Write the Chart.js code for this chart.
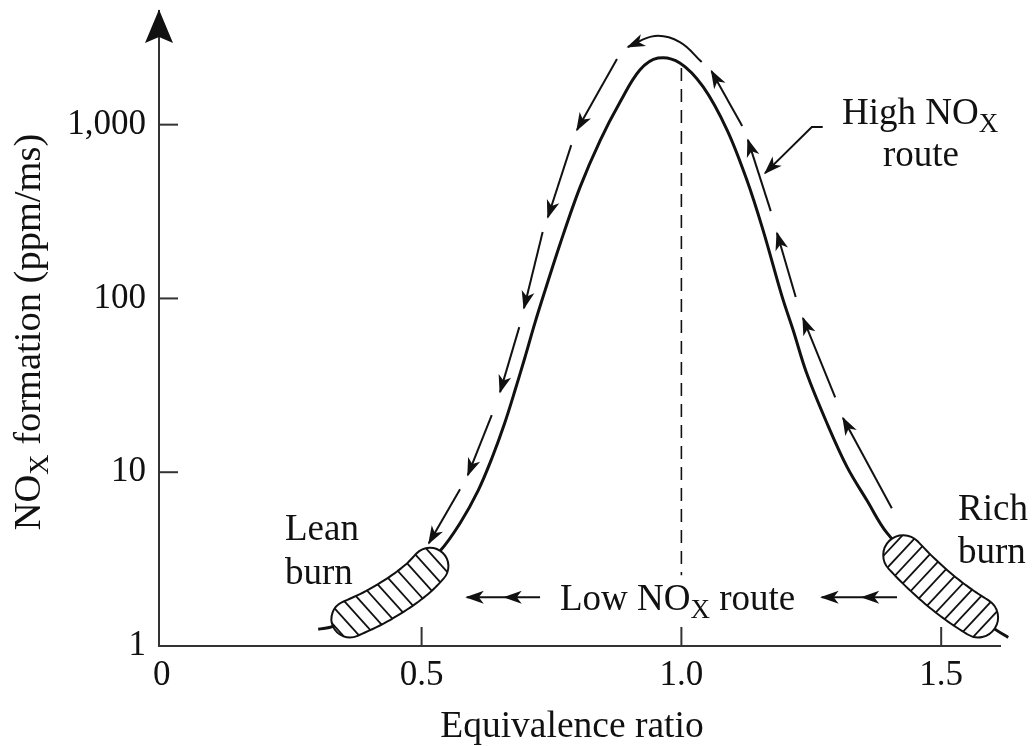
<!DOCTYPE html>
<html><head><meta charset="utf-8">
<script src="https://cdn.jsdelivr.net/npm/chart.js@4/dist/chart.umd.min.js"></script>
<style>html,body{margin:0;padding:0;background:#fff;}canvas{display:block;}</style>
</head><body>
<canvas id="c" width="1034" height="746"></canvas>
<script>
// ---------------- data ----------------
const curveX = [0.301,0.330,0.458,0.535,0.574,0.609,0.636,0.660,0.680,0.699,0.718,0.738,0.767,0.805,0.844,0.882,0.920,0.955,0.997,1.042,1.088,1.126,1.157,1.194,1.215,1.241,1.280,1.319,1.357,1.396,1.498,1.607,1.629];
const curveY = [1.25,1.30,2.09,3.51,5.09,7.87,12.2,19.2,29.7,45.9,72.1,112,208,437,815,1349,2061,2416,2265,1648,931,480,248,102,65.8,37.2,19.2,10.7,6.90,4.46,2.09,1.23,1.12];
const refLineX = [1.0, 1.0];
const refLineY = [2115, 2.55];
const xTicks = [0, 0.5, 1.0, 1.5];
const xTickLabels = ['0', '0.5', '1.0', '1.5'];
const yTicks = [1, 10, 100, 1000];
const yTickLabels = ['1', '10', '100', '1,000'];
// high NOx route arrows: [tailX, tailY, tipX, tipY]
const downArrows = [[0.876,2383,0.799,931],[0.788,762,0.743,293],[0.733,241,0.697,87.9],[0.688,68.4,0.651,28.9],[0.635,21.3,0.589,9.62],[0.574,7.98,0.514,3.90]];
const upArrows = [[1.117,982,1.058,2032],[1.172,318,1.128,817],[1.220,102,1.184,238],[1.296,27.0,1.234,77.1],[1.405,6.21,1.311,20.5]];
const topArcX = [1.039,0.997,0.949,0.897];
const topArcY = [2291,2985,3236,2799];
const pointerX = [1.272,1.251,1.161];
const pointerY = [968,968,526];
// low NOx route arrows: [tail, second head, tip] at level lowRouteY
const lowRouteY = 1.91;
const lowLeftArrow = [0.728, 0.660, 0.587];
const lowRightArrow = [1.415, 1.348, 1.270];
// burn zones (centre lines)
const leanBlobX = [0.362,0.410,0.458,0.493,0.516];
const leanBlobY = [1.43,1.67,2.04,2.45,2.88];
const richBlobX = [1.427,1.459,1.498,1.536,1.571];
const richBlobY = [3.33,2.66,2.09,1.71,1.46];

// ---------------- helpers ----------------
const FONT = '"Liberation Serif", "Times New Roman", serif';
const INK = '#111';
const pts = (xs, ys) => xs.map((x, i) => ({x, y: ys[i]}));

const datasets = [];
datasets.push({data: pts(curveX, curveY), borderColor: INK, borderWidth: 3, tension: 0.35, clip: false});
datasets.push({data: pts(refLineX, refLineY), borderColor: INK, borderWidth: 1.6, borderDash: [13, 8]});
downArrows.concat(upArrows).forEach(a => datasets.push({data: [{x:a[0],y:a[1]},{x:a[2],y:a[3]}], borderColor: INK, borderWidth: 2}));
datasets.push({data: pts(topArcX, topArcY), borderColor: INK, borderWidth: 2, tension: 0.4});
datasets.push({data: pts(pointerX, pointerY), borderColor: INK, borderWidth: 2});
[lowLeftArrow, lowRightArrow].forEach(a => datasets.push({data: [{x:a[0],y:lowRouteY},{x:a[2],y:lowRouteY}], borderColor: INK, borderWidth: 2}));

function arrowHead(ctx, tx, ty, fx, fy, L, W, notch) {
  const dx = tx - fx, dy = ty - fy, len = Math.hypot(dx, dy);
  const ux = dx / len, uy = dy / len, nx = -uy, ny = ux;
  ctx.beginPath();
  ctx.moveTo(tx + ux * 1.5, ty + uy * 1.5);
  ctx.lineTo(tx - L*ux + W*nx, ty - L*uy + W*ny);
  ctx.lineTo(tx - notch*ux, ty - notch*uy);
  ctx.lineTo(tx - L*ux - W*nx, ty - L*uy - W*ny);
  ctx.closePath();
  ctx.fill();
}

function catmull(p, steps) {
  const out = [];
  for (let i = 0; i < p.length - 1; i++) {
    const p0 = p[Math.max(0, i-1)], p1 = p[i], p2 = p[i+1], p3 = p[Math.min(p.length-1, i+2)];
    for (let s = 0; s < steps; s++) {
      const t = s / steps, t2 = t*t, t3 = t2*t;
      const f = (a,b,c,d) => 0.5*((2*b) + (-a + c)*t + (2*a - 5*b + 4*c - d)*t2 + (-a + 3*b - 3*c + d)*t3);
      out.push({x: f(p0.x,p1.x,p2.x,p3.x), y: f(p0.y,p1.y,p2.y,p3.y)});
    }
  }
  out.push(p[p.length-1]);
  return out;
}

function drawBlob(ctx, cp, r, hatchAngle, spacing) {
  const p = catmull(cp, 8);
  const n = p.length;
  const tang = p.map((q, i) => {
    const a = p[Math.max(0, i-1)], b = p[Math.min(n-1, i+1)];
    const dx = b.x - a.x, dy = b.y - a.y, l = Math.hypot(dx, dy);
    return {x: dx/l, y: dy/l};
  });
  const path = new Path2D();
  p.forEach((q, i) => {
    const x = q.x - tang[i].y * r, y = q.y + tang[i].x * r;
    if (i === 0) path.moveTo(x, y); else path.lineTo(x, y);
  });
  const te = Math.atan2(tang[n-1].y, tang[n-1].x);
  path.arc(p[n-1].x, p[n-1].y, r, te + Math.PI/2, te - Math.PI/2, true);
  for (let i = n - 1; i >= 0; i--) path.lineTo(p[i].x + tang[i].y * r, p[i].y - tang[i].x * r);
  const t0 = Math.atan2(tang[0].y, tang[0].x);
  path.arc(p[0].x, p[0].y, r, t0 - Math.PI/2, t0 + Math.PI/2, true);
  path.closePath();
  ctx.save();
  ctx.fillStyle = '#fff';
  ctx.fill(path);
  ctx.clip(path);
  const cx = (p[0].x + p[n-1].x)/2, cy = (p[0].y + p[n-1].y)/2;
  const dx = Math.cos(hatchAngle), dy = Math.sin(hatchAngle);
  const mx = -dy, my = dx;
  ctx.strokeStyle = INK; ctx.lineWidth = 1.8;
  for (let k = -14; k <= 14; k++) {
    const ox = cx + (k + 0.3) * spacing * mx, oy = cy + (k + 0.3) * spacing * my;
    ctx.beginPath();
    ctx.moveTo(ox - 80*dx, oy - 80*dy);
    ctx.lineTo(ox + 80*dx, oy + 80*dy);
    ctx.stroke();
  }
  ctx.restore();
  ctx.strokeStyle = INK; ctx.lineWidth = 2;
  ctx.stroke(path);
}

function richText(ctx, parts, x, y, align, size) {
  size = size || 37;
  const main = size + 'px ' + FONT, sub = Math.round(size * 0.72) + 'px ' + FONT;
  let w = 0;
  parts.forEach(pt => { ctx.font = pt[1] ? sub : main; w += ctx.measureText(pt[0]).width; });
  let cx = align === 'center' ? x - w/2 : x;
  ctx.textAlign = 'left'; ctx.textBaseline = 'alphabetic';
  parts.forEach(pt => {
    ctx.font = pt[1] ? sub : main;
    ctx.fillText(pt[0], cx, y + (pt[1] ? 8 : 0));
    cx += ctx.measureText(pt[0]).width;
  });
}

const overlay = {
  id: 'overlay',
  afterDatasetsDraw(chart) {
    const ctx = chart.ctx, xs = chart.scales.x, ys = chart.scales.y, ca = chart.chartArea;
    const P = (x, y) => ({x: xs.getPixelForValue(x), y: ys.getPixelForValue(y)});
    ctx.save();
    ctx.fillStyle = INK; ctx.strokeStyle = INK;
    downArrows.concat(upArrows).forEach(a => {
      const f = P(a[0], a[1]), t = P(a[2], a[3]);
      arrowHead(ctx, t.x, t.y, f.x, f.y, 17, 6.5, 12);
    });
    {
      const n = topArcX.length;
      const t = P(topArcX[n-1], topArcY[n-1]);
      const f = {x: t.x + 16, y: t.y - 7};
      arrowHead(ctx, t.x, t.y, f.x, f.y, 17, 6.5, 12);
      const g = P(pointerX[1], pointerY[1]), h = P(pointerX[2], pointerY[2]);
      arrowHead(ctx, h.x, h.y, g.x, g.y, 17, 6.5, 12);
    }
    [lowLeftArrow, lowRightArrow].forEach(a => {
      const tail = P(a[0], lowRouteY), mid = P(a[1], lowRouteY), tip = P(a[2], lowRouteY);
      arrowHead(ctx, tip.x, tip.y, tail.x, tail.y, 17, 6.5, 12);
      arrowHead(ctx, mid.x, mid.y, tail.x, tail.y, 17, 6.5, 12);
    });
    drawBlob(ctx, pts(leanBlobX, leanBlobY).map(q => P(q.x, q.y)), 18.5, 48 * Math.PI/180, 12);
    drawBlob(ctx, pts(richBlobX, richBlobY).map(q => P(q.x, q.y)), 20, -47 * Math.PI/180, 11);
    ctx.strokeStyle = '#333'; ctx.lineWidth = 2;
    yTicks.slice(1).forEach(v => { const y = ys.getPixelForValue(v); ctx.beginPath(); ctx.moveTo(ca.left, y); ctx.lineTo(ca.left + 19, y); ctx.stroke(); });
    xTicks.slice(1).forEach(v => { const x = xs.getPixelForValue(v); ctx.beginPath(); ctx.moveTo(x, ca.bottom); ctx.lineTo(x, ca.bottom - 19); ctx.stroke(); });
    ctx.fillStyle = '#111';
    arrowHead(ctx, ca.left, ca.top, ca.left, ca.top + 100, 32, 14, 26);
    ctx.fillStyle = INK;
    richText(ctx, [['High NO'], ['X', true]], 842, 124, 'left');
    richText(ctx, [['route']], 921, 166, 'center');
    richText(ctx, [['Lean']], 285, 540, 'left');
    richText(ctx, [['burn']], 285, 584, 'left');
    richText(ctx, [['Rich']], 958, 520, 'left');
    richText(ctx, [['burn']], 958, 563, 'left');
    richText(ctx, [['Low NO'], ['X', true], [' route']], 560, 610, 'left');
    richText(ctx, [['Equivalence ratio']], 572, 737, 'center', 37.5);
    ctx.save();
    ctx.translate(40, 332);
    ctx.rotate(-Math.PI/2);
    richText(ctx, [['NO'], ['X', true], [' formation (ppm/ms)']], 0, 0, 'center', 38.5);
    ctx.restore();
    ctx.restore();
  }
};

new Chart(document.getElementById('c'), {
  type: 'line',
  data: {datasets},
  plugins: [overlay],
  options: {
    responsive: false,
    animation: false,
    events: [],
    layout: {padding: {top: 11, right: 34, left: 0, bottom: 0}},
    plugins: {legend: {display: false}, tooltip: {enabled: false}},
    elements: {point: {radius: 0}, line: {borderCapStyle: 'butt'}},
    scales: {
      x: {
        type: 'linear', min: -0.0054, max: 1.6132,
        grid: {display: false, drawTicks: false},
        border: {display: true, color: '#333', width: 2},
        afterBuildTicks: s => { s.ticks = xTicks.map(v => ({value: v})); },
        afterFit: s => { s.height = 100; s.paddingLeft = 0; s.paddingRight = 0; },
        ticks: {padding: 9, autoSkip: false, maxRotation: 0, minRotation: 0, color: INK,
          font: {family: FONT, size: 35}, callback: (v, i) => xTickLabels[i]}
      },
      y: {
        type: 'logarithmic', min: 1, max: 4508,
        grid: {display: false, drawTicks: false},
        border: {display: true, color: '#333', width: 2},
        afterBuildTicks: s => { s.ticks = yTicks.map(v => ({value: v})); },
        afterFit: s => { s.width = 159; s.paddingTop = 0; s.paddingBottom = 0; },
        ticks: {padding: 13, autoSkip: false, color: INK,
          font: {family: FONT, size: 35}, callback: (v, i) => yTickLabels[i]}
      }
    }
  }
});
</script>
</body></html>
